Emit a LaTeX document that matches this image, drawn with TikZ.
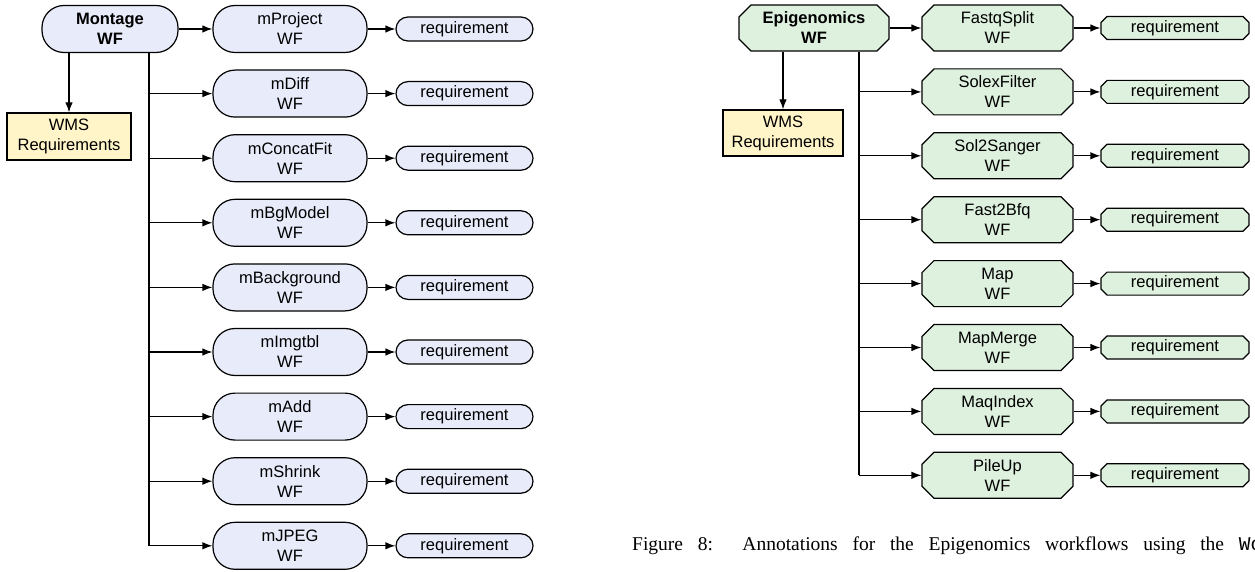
\documentclass[tikz,border=0pt]{standalone}
\usepackage{fontspec}
\setmainfont{Liberation Sans}
\newfontfamily\capfont{Liberation Serif}
\newfontfamily\capmono{Liberation Mono}
\usetikzlibrary{arrows.meta,shapes.misc}
\definecolor{mfill}{HTML}{E8EBFA}
\definecolor{gfill}{HTML}{DEF0DE}
\definecolor{yfill}{HTML}{FFF5C8}
\begin{document}
\begin{tikzpicture}[x=1pt,y=-1pt,
  every node/.style={inner sep=0pt, align=center, font=\fontsize{16.5}{20}\selectfont},
  ln/.style={line width=1.2pt},
  arr/.style={line width=1.2pt, -{Latex[length=10pt,width=7.5pt]}},
  mbox/.style={draw, line width=1.2pt, fill=mfill, rounded corners=22pt, minimum width=154pt, minimum height=47pt},
  mreq/.style={draw, line width=1.2pt, fill=mfill, rounded corners=12pt, minimum width=137pt, minimum height=24pt},
  gbox/.style={draw, line width=1.2pt, fill=gfill, chamfered rectangle, chamfered rectangle xsep=6pt, chamfered rectangle ysep=6pt, minimum width=151pt, minimum height=46pt},
  greq/.style={draw, line width=1.2pt, fill=gfill, chamfered rectangle, chamfered rectangle xsep=3pt, chamfered rectangle ysep=3pt, minimum width=148pt, minimum height=23pt},
  wms/.style={draw, line width=1.2pt, fill=yfill, minimum height=47pt}
]
\useasboundingbox (0,0) rectangle (1255,572);

% ---------------- Montage ----------------
\node[mbox, minimum width=136pt, font=\fontsize{16.5}{20}\selectfont\bfseries] (Mont) at (110,29) {Montage\\WF};
\node[wms, minimum width=124pt] (LW) at (69,136.5) {WMS\\Requirements};
\draw[arr] (Mont.south -| LW.north) -- (LW.north);
\coordinate (ltr) at (149,0);

\foreach \n [count=\i from 0] in {mProject,mDiff,mConcatFit,mBgModel,mBackground,mImgtbl,mAdd,mShrink,mJPEG}{
  \node[mbox] (L\i) at (290,29+64.6*\i) {\n\\WF};
  \node[mreq] (LR\i) at (464.5,29+64.6*\i) {requirement};
  \draw[arr] (L\i.east) -- (LR\i.west);
}
\draw[arr] (Mont.east) -- (L0.west);
\draw[ln] (ltr |- Mont.south) -- (ltr |- L8.west);
\foreach \i in {1,...,8}{
  \draw[arr] (ltr |- L\i.west) -- (L\i.west);
}

% ---------------- Epigenomics ----------------
\node[gbox, minimum width=150pt, font=\fontsize{16.5}{20}\selectfont\bfseries] (Epi) at (814,28) {Epigenomics\\WF};
\node[wms, minimum width=120pt, minimum height=46pt] (RW) at (783,133) {WMS\\Requirements};
\draw[arr] (Epi.south -| RW.north) -- (RW.north);
\coordinate (rtr) at (859,0);

\foreach \n [count=\i from 0] in {FastqSplit,SolexFilter,Sol2Sanger,Fast2Bfq,Map,MapMerge,MaqIndex,PileUp}{
  \node[gbox] (R\i) at (997.5,28+63.9*\i) {\n\\WF};
  \node[greq] (RR\i) at (1175,28+63.9*\i) {requirement};
  \draw[arr] (R\i.east) -- (RR\i.west);
}
\draw[arr] (Epi.east) -- (R0.west);
\draw[ln] (rtr |- Epi.south) -- (rtr |- R7.west);
\foreach \i in {1,...,7}{
  \draw[arr] (rtr |- R\i.west) -- (R\i.west);
}

% ---------------- caption ----------------
\begin{scope}
\clip (0,0) rectangle (1255,572);
\node[anchor=base west, font=\capfont\fontsize{19.5}{22}\selectfont] (cap) at (632,550)
  {\makebox[630pt][s]{Figure 8:\ \ Annotations for the Epigenomics workflows using the {\capmono Wo}}};
\end{scope}
\end{tikzpicture}
\end{document}
